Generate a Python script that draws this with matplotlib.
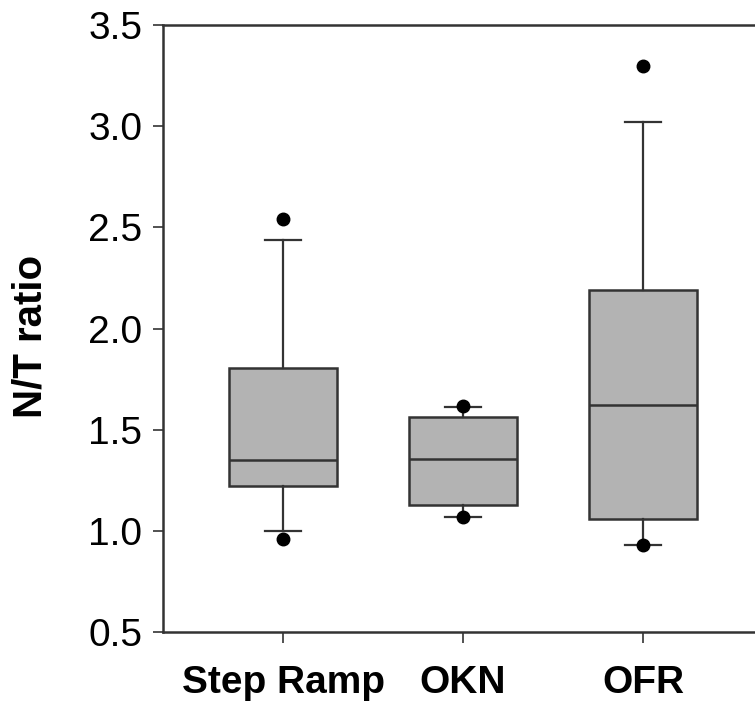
import numpy as np
import matplotlib.pyplot as plt

# Box summary values for each stimulus type
labels = ['Step Ramp', 'OKN', 'OFR']
whislo = [1.00, 1.07, 0.93]
q1 = [1.22, 1.13, 1.06]
med = [1.35, 1.355, 1.62]
q3 = [1.805, 1.565, 2.19]
whishi = [2.44, 1.61, 3.02]
outliers = [[2.54, 0.96], [1.615, 1.07], [3.30, 0.93]]

plt.rcParams['font.family'] = ['Liberation Sans', 'DejaVu Sans']

stats = []
for i in range(len(labels)):
    stats.append(dict(label=labels[i], whislo=whislo[i], q1=q1[i], med=med[i],
                      q3=q3[i], whishi=whishi[i], fliers=outliers[i]))

fig = plt.figure(figsize=(7.55, 7.11), dpi=100)
ax = fig.add_axes([0.216, 0.111, 0.784, 0.8537])

edge = '#333333'
ax.bxp(stats, positions=[1, 2, 3], widths=0.6, capwidths=0.2, patch_artist=True,
       boxprops=dict(facecolor='#b3b3b3', edgecolor=edge, linewidth=1.8),
       medianprops=dict(color=edge, linewidth=1.8),
       whiskerprops=dict(color=edge, linewidth=1.6),
       capprops=dict(color=edge, linewidth=1.6),
       flierprops=dict(marker='o', markerfacecolor='black', markeredgecolor='black',
                       markersize=9, linestyle='none'))

ax.set_xlim(0.333, 3.622)
ax.set_ylim(0.5, 3.5)
yt = np.arange(0.5, 3.51, 0.5)
ax.set_yticks(yt)
ax.set_yticklabels([f'{v:.1f}' for v in yt], fontsize=28)
ax.set_xticks([1, 2, 3])
ax.set_xticklabels(labels, fontsize=28, fontweight='bold')
ax.tick_params(axis='y', direction='out', length=7, width=1.2, color=edge, pad=8)
ax.tick_params(axis='x', direction='out', length=8, width=1.2, color=edge, pad=16)

ax.spines['right'].set_visible(False)
for s in ['left', 'top', 'bottom']:
    ax.spines[s].set_color(edge)
    ax.spines[s].set_linewidth(1.8)

fig.text(31 / 755, 1 - 336 / 711, 'N/T ratio', rotation=90, ha='center', va='center',
         fontsize=29, fontweight='bold')

fig.savefig('out.png', dpi=100)
